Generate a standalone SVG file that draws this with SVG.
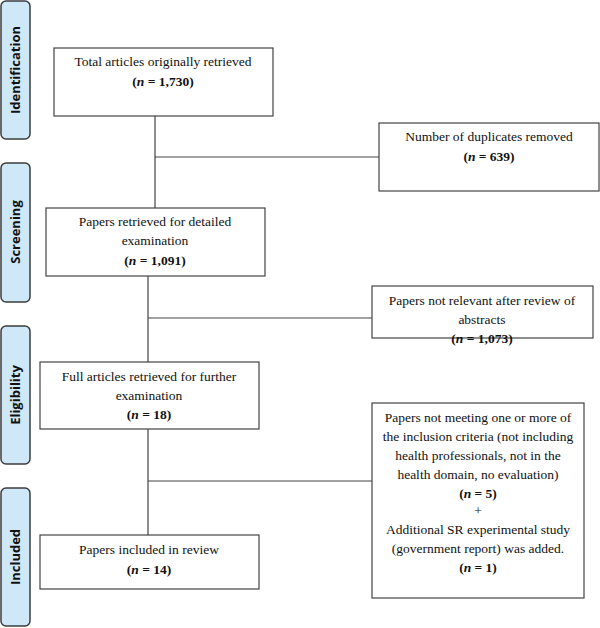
<svg xmlns="http://www.w3.org/2000/svg" width="600" height="628" viewBox="0 0 600 628">
<style>
.side{fill:#cfe8f7;stroke:#3c3c3c;stroke-width:1.5}
.sl{font-family:"Open Sans","DejaVu Sans",sans-serif;font-weight:bold;font-size:13px;fill:#111;text-anchor:middle}
.box{fill:#fff;stroke:#444;stroke-width:1.2}
.t{font-family:"Liberation Serif",serif;font-size:13.5px;fill:#111;text-anchor:middle}
.b{font-weight:bold}
.c{stroke:#444;stroke-width:1.2;fill:none}
</style>
<rect width="600" height="628" fill="#fff"/>
<g id="stage-identification"><rect class="side" x="1" y="1" width="29" height="138" rx="5"/><text class="sl" transform="translate(20,70) rotate(-90)">Identification</text></g>
<g id="stage-screening"><rect class="side" x="1" y="163" width="29" height="139" rx="5"/><text class="sl" transform="translate(20,232) rotate(-90)">Screening</text></g>
<g id="stage-eligibility"><rect class="side" x="1" y="326" width="29" height="138" rx="5"/><text class="sl" transform="translate(20,395) rotate(-90)">Eligibility</text></g>
<g id="stage-included"><rect class="side" x="1" y="488" width="29" height="138" rx="5"/><text class="sl" transform="translate(20,557) rotate(-90)">Included</text></g>
<g id="connectors">
<path class="c" d="M155 116V208M155 157H379"/>
<path class="c" d="M148 276V362M148 318H372"/>
<path class="c" d="M148 429V535M148 481H372"/>
</g>
<g id="total"><rect class="box" x="54" y="48" width="219" height="68"/><text class="t" x="163" y="66">Total articles originally retrieved</text><text class="t b" x="163" y="86">(<tspan font-style="italic">n</tspan> = 1,730)</text></g>
<g id="duplicates"><rect class="box" x="379" y="123" width="220" height="68"/><text class="t" x="489" y="141">Number of duplicates removed</text><text class="t b" x="489" y="161">(<tspan font-style="italic">n</tspan> = 639)</text></g>
<g id="screened"><rect class="box" x="46" y="208" width="219" height="68"/><text class="t" x="155" y="226">Papers retrieved for detailed</text><text class="t" x="155" y="245">examination</text><text class="t b" x="155" y="265">(<tspan font-style="italic">n</tspan> = 1,091)</text></g>
<g id="not-relevant"><rect class="box" x="372" y="286" width="221" height="52"/><text class="t" x="482" y="305">Papers not relevant after review of</text><text class="t" x="482" y="324">abstracts</text><text class="t b" x="482" y="343">(<tspan font-style="italic">n</tspan> = 1,073)</text></g>
<g id="eligible"><rect class="box" x="40" y="362" width="219" height="67"/><text class="t" x="149" y="381">Full articles retrieved for further</text><text class="t" x="149" y="400">examination</text><text class="t b" x="149" y="419">(<tspan font-style="italic">n</tspan> = 18)</text></g>
<g id="excluded"><rect class="box" x="372" y="403" width="212" height="195"/>
<text class="t" x="478" y="422">Papers not meeting one or more of</text>
<text class="t" x="478" y="441">the inclusion criteria (not including</text>
<text class="t" x="478" y="460">health professionals, not in the</text>
<text class="t" x="478" y="479">health domain, no evaluation)</text>
<text class="t b" x="478" y="498">(<tspan font-style="italic">n</tspan> = 5)</text>
<text class="t" x="478" y="515">+</text>
<text class="t" x="478" y="534">Additional SR experimental study</text>
<text class="t" x="478" y="553">(government report) was added.</text>
<text class="t b" x="478" y="572">(<tspan font-style="italic">n</tspan> = 1)</text></g>
<g id="included"><rect class="box" x="40" y="535" width="219" height="54"/><text class="t" x="149" y="554">Papers included in review</text><text class="t b" x="149" y="574">(<tspan font-style="italic">n</tspan> = 14)</text></g>
</svg>
